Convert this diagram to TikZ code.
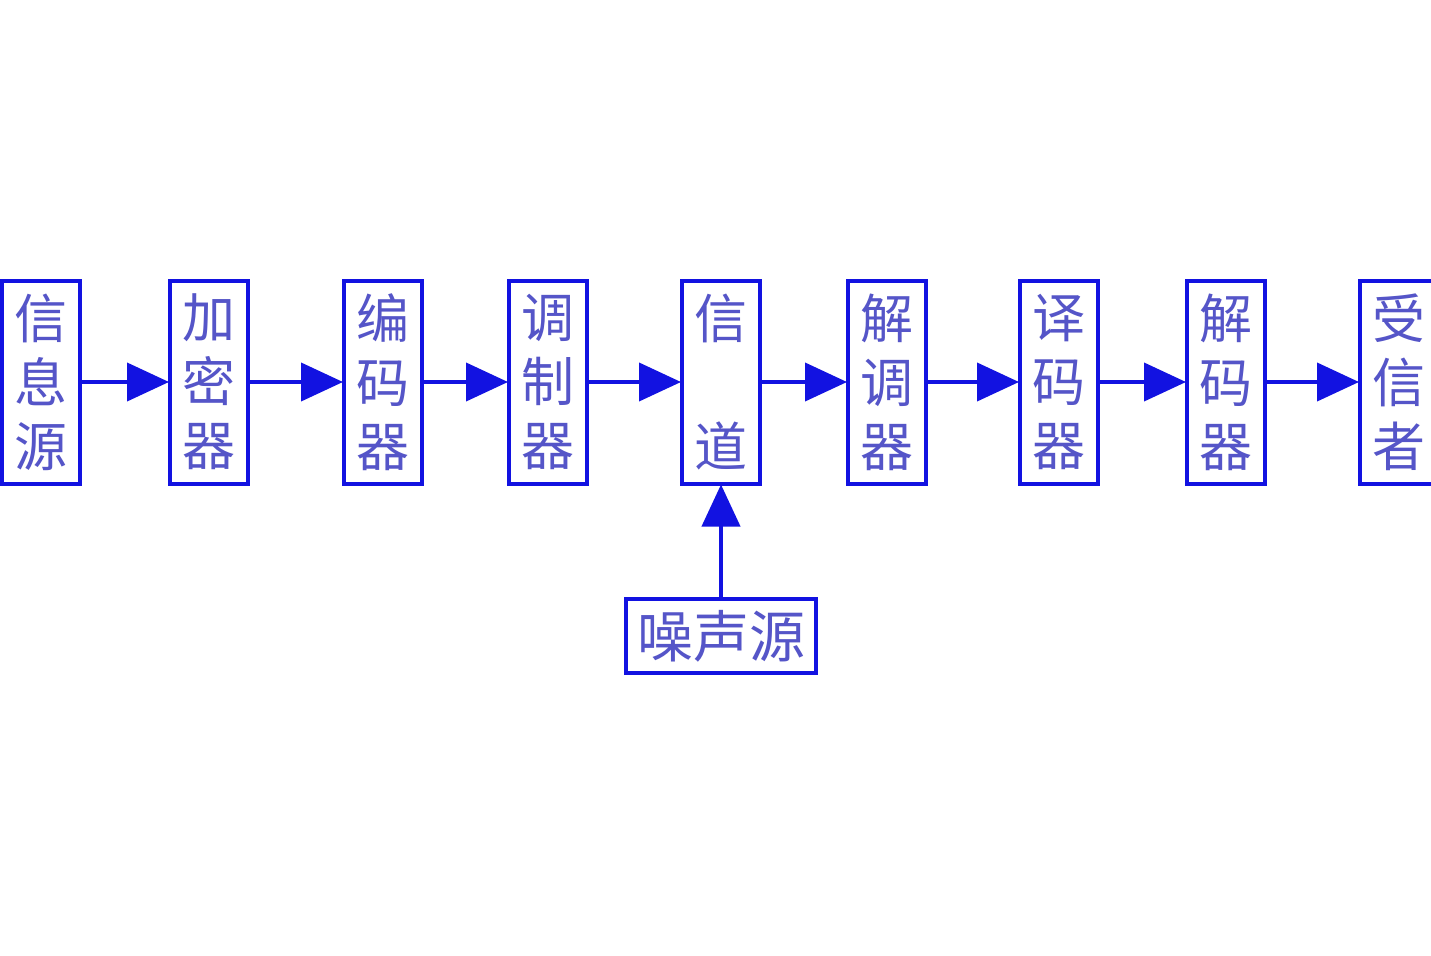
\documentclass[tikz,border=0pt]{standalone}
\usepackage{fontspec}
\newfontfamily\cjk{Noto Sans CJK SC}
\usetikzlibrary{arrows.meta}
\definecolor{lineblue}{RGB}{18,18,225}
\definecolor{textblue}{RGB}{85,85,200}
\tikzset{
  blk/.style={draw=lineblue, line width=4pt, minimum width=78pt, minimum height=203pt,
    inner sep=0pt, align=center, text=textblue,
    font=\cjk\fontsize{53}{64}\selectfont},
  noise/.style={draw=lineblue, line width=4pt, minimum width=190pt, minimum height=74pt,
    inner sep=0pt, text=textblue, font=\cjk\fontsize{56}{60}\selectfont},
  flow/.style={draw=lineblue, line width=4pt, -{Triangle[length=42pt,width=38pt]}, shorten >=-1pt}
}
\begin{document}
\begin{tikzpicture}[x=1pt,y=-1pt]
\useasboundingbox (0,0) rectangle (1431,955);
\fill[white] (0,0) rectangle (1431,955);
\clip (0,0) rectangle (1431,955);
\node[blk] (b1) at (41,382) {信\\息\\源};
\node[blk] (b2) at (209,382) {加\\密\\器};
\node[blk] (b3) at (383,382) {编\\码\\器};
\node[blk] (b4) at (548,382) {调\\制\\器};
\node[blk] (b5) at (721,382) {信\\[64pt]道};
\node[blk] (b6) at (887,382) {解\\调\\器};
\node[blk] (b7) at (1059,382) {译\\码\\器};
\node[blk] (b8) at (1226,382) {解\\码\\器};
\node[blk] (b9) at (1399,382) {受\\信\\者};
\node[noise] (n) at (721,636) {噪声源};
\draw[flow] (b1) -- (b2);
\draw[flow] (b2) -- (b3);
\draw[flow] (b3) -- (b4);
\draw[flow] (b4) -- (b5);
\draw[flow] (b5) -- (b6);
\draw[flow] (b6) -- (b7);
\draw[flow] (b7) -- (b8);
\draw[flow] (b8) -- (b9);
\draw[flow] (n) -- (b5);
\end{tikzpicture}
\end{document}
